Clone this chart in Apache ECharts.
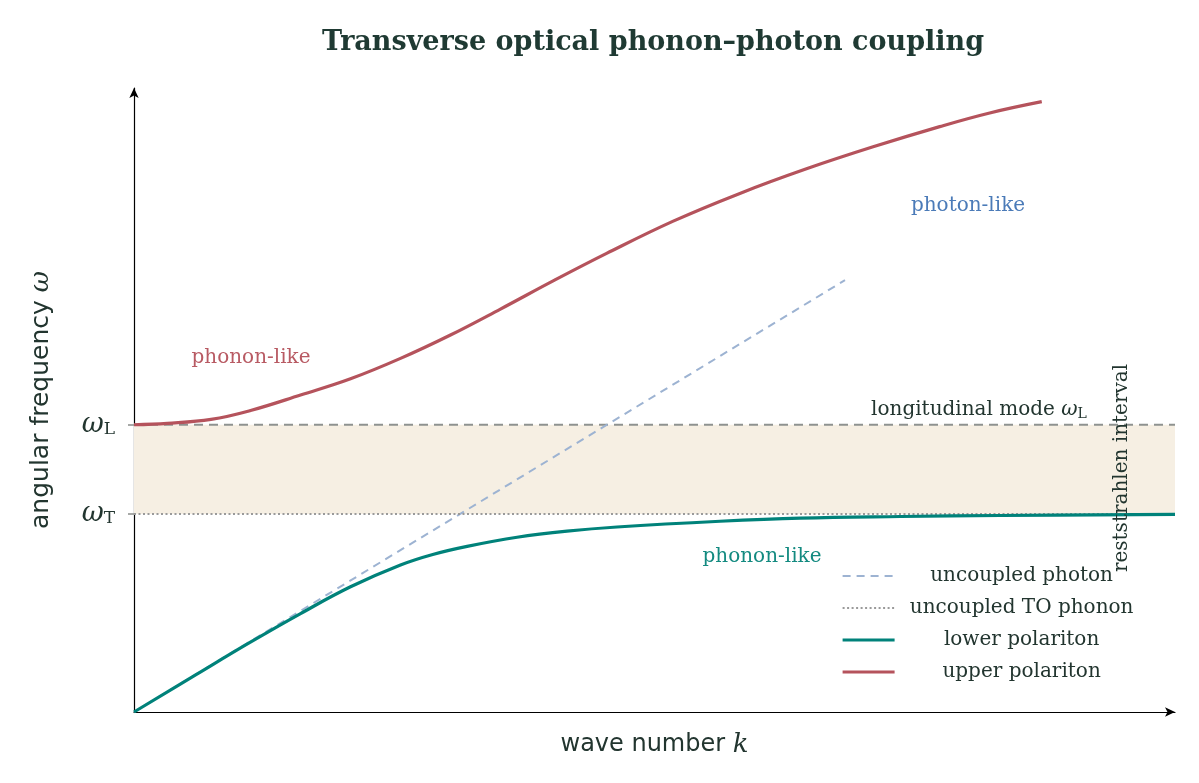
<!DOCTYPE html>
<html>
<head>
<meta charset="utf-8">
<title>Transverse optical phonon–photon coupling</title>
<script src="https://cdn.jsdelivr.net/npm/echarts@6/dist/echarts.min.js"></script>
<style>
    html, body { margin: 0; padding: 0; background: #fff; }
    #polariton_chart { width: 1199px; height: 783px; }
</style>
</head>
<body>
<div id="polariton_chart"></div>
<script>
// ------------------------------
// Data
// ------------------------------

var omegaT = 1.0;
var omegaL = 1.45;
var kMax = 10;
var wMax = 3.15;

var photonK = [0, 6.83];
var photonW = [0, 2.18];

var lowerK = [0, 0.60, 1.11, 1.60, 2.08, 2.56, 2.87, 3.20, 3.68, 4.16, 4.64, 5.63, 6.40, 7.36, 8.32, 10];
var lowerW = [0, 0.19, 0.35, 0.497, 0.632, 0.742, 0.795, 0.836, 0.882, 0.913, 0.934, 0.963, 0.979, 0.987, 0.992, 0.998];

var upperK = [0, 0.32, 0.74, 1.12, 1.60, 2.08, 2.56, 3.04, 3.52, 4.04, 4.54, 5.18, 5.82, 6.46, 7.10, 7.74, 8.22, 8.72];
var upperW = [1.45, 1.457, 1.477, 1.522, 1.600, 1.682, 1.785, 1.903, 2.034, 2.180, 2.315, 2.478, 2.618, 2.742, 2.853, 2.955, 3.024, 3.081];

var yTickValues = [omegaT, omegaL];
var yTickSubs = ['T', 'L'];

var legendNames = ['uncoupled photon', 'uncoupled TO phonon', 'lower polariton', 'upper polariton'];

function pairs(xs, ys) {
    return xs.map(function(x, i) { return [x, ys[i]]; });
}

var textColor = '#22352f';
var serif = '"DejaVu Serif", serif';
var sans = '"DejaVu Sans", sans-serif';

var chart = echarts.init(document.getElementById('polariton_chart'));

chart.setOption({
    animation: false,
    backgroundColor: '#fff',

    title: {
        text: 'Transverse optical phonon–photon coupling',
        left: 322,
        top: 29,
        padding: 0,
        textStyle: {
            fontFamily: serif,
            fontWeight: 'bold',
            fontSize: 27,
            color: '#1f3a33'
        }
    },

    grid: { left: 134, right: 24, top: 88, bottom: 71 },

    legend: {
        data: legendNames,
        orient: 'vertical',
        left: 841,
        top: 566,
        padding: 0,
        itemWidth: 52,
        itemHeight: 18,
        itemGap: 12,
        itemStyle: { opacity: 0 },
        lineStyle: { width: 'inherit' },
        formatter: '{c|{name}}',
        textStyle: {
            rich: {
                c: {
                    width: 244,
                    align: 'center',
                    fontFamily: serif,
                    fontSize: 20,
                    lineHeight: 18,
                    color: textColor
                }
            }
        }
    },

    xAxis: {
        type: 'value',
        min: 0,
        max: kMax,
        name: '{t|wave number }{k|k}',
        nameLocation: 'middle',
        nameGap: 20,
        nameTextStyle: {
            rich: {
                t: { fontFamily: sans, fontSize: 24, color: textColor },
                k: { fontFamily: serif, fontStyle: 'italic', fontSize: 26, color: textColor }
            }
        },
        axisLine: {
            show: true,
            symbol: ['none', 'arrow'],
            symbolSize: [7, 10],
            lineStyle: { color: '#000', width: 1.2 }
        },
        axisTick: { show: false },
        axisLabel: { show: false },
        splitLine: { show: false }
    },

    yAxis: {
        type: 'value',
        min: 0,
        max: wMax,
        name: '{t|angular frequency }{w|ω}',
        nameLocation: 'middle',
        nameRotate: 90,
        nameGap: 80,
        nameTextStyle: {
            rich: {
                t: { fontFamily: sans, fontSize: 25, color: textColor },
                w: { fontFamily: serif, fontStyle: 'italic', fontSize: 26, color: textColor }
            }
        },
        axisLine: {
            show: true,
            symbol: ['none', 'arrow'],
            symbolSize: [7, 10],
            lineStyle: { color: '#000', width: 1.2 }
        },
        axisTick: {
            show: true,
            customValues: yTickValues,
            length: 6,
            lineStyle: { color: '#8a8d8b', width: 1.5 }
        },
        axisLabel: {
            show: true,
            customValues: yTickValues,
            margin: 19,
            formatter: function(v) {
                var i = yTickValues.indexOf(v);
                return '{w|ω}{s|' + (i >= 0 ? yTickSubs[i] : '') + '}';
            },
            rich: {
                w: { fontFamily: serif, fontStyle: 'italic', fontSize: 27, color: textColor, lineHeight: 26 },
                s: { fontFamily: serif, fontSize: 17, color: textColor, verticalAlign: 'bottom', lineHeight: 12 }
            }
        },
        splitLine: { show: false }
    },

    series: [
        {
            name: 'reststrahlen band',
            type: 'line',
            data: [[0, omegaL], [kMax, omegaL]],
            symbol: 'none',
            silent: true,
            z: 1,
            lineStyle: { color: '#8e9290', width: 2, type: [9, 6] },
            markArea: {
                silent: true,
                itemStyle: { color: '#f6efe3' },
                data: [[{ xAxis: 0, yAxis: omegaT }, { xAxis: kMax, yAxis: omegaL }]]
            }
        },
        {
            name: 'uncoupled photon',
            type: 'line',
            data: pairs(photonK, photonW),
            symbol: 'none',
            z: 2,
            lineStyle: { color: '#9db3d2', width: 2, type: [8, 6] },
            itemStyle: { color: '#9db3d2' }
        },
        {
            name: 'uncoupled TO phonon',
            type: 'line',
            data: [[0, omegaT], [kMax, omegaT]],
            symbol: 'none',
            z: 2,
            lineStyle: { color: '#9a9a9a', width: 2, type: [2, 2.5] },
            itemStyle: { color: '#9a9a9a' }
        },
        {
            name: 'lower polariton',
            type: 'line',
            data: pairs(lowerK, lowerW),
            symbol: 'none',
            smooth: 0.4,
            z: 3,
            lineStyle: { color: '#00827a', width: 3.2 },
            itemStyle: { color: '#00827a' }
        },
        {
            name: 'upper polariton',
            type: 'line',
            data: pairs(upperK, upperW),
            symbol: 'none',
            smooth: 0.4,
            z: 3,
            lineStyle: { color: '#b5535c', width: 3.2 },
            itemStyle: { color: '#b5535c' }
        }
    ],

    graphic: [
        {
            type: 'text', x: 251, y: 358, z: 100, silent: true,
            style: { text: 'phonon-like', fill: '#b85a63', font: '20px ' + serif, align: 'center', verticalAlign: 'middle' }
        },
        {
            type: 'text', x: 968, y: 206, z: 100, silent: true,
            style: { text: 'photon-like', fill: '#4b7bb8', font: '20px ' + serif, align: 'center', verticalAlign: 'middle' }
        },
        {
            type: 'text', x: 762, y: 557, z: 100, silent: true,
            style: { text: 'phonon-like', fill: '#138a80', font: '20px ' + serif, align: 'center', verticalAlign: 'middle' }
        },
        {
            type: 'text', x: 979, y: 410, z: 100, silent: true,
            style: {
                text: '{a|longitudinal mode }{w|ω}{s|L}',
                align: 'center', verticalAlign: 'middle',
                rich: {
                    a: { fontFamily: serif, fontSize: 20, fill: textColor, lineHeight: 22 },
                    w: { fontFamily: serif, fontStyle: 'italic', fontSize: 20, fill: textColor, lineHeight: 22 },
                    s: { fontFamily: serif, fontSize: 14, fill: textColor, verticalAlign: 'bottom', lineHeight: 9 }
                }
            }
        },
        {
            type: 'text', x: 1122, y: 468, rotation: Math.PI / 2, z: 100, silent: true,
            style: { text: 'reststrahlen interval', fill: textColor, font: '20px ' + serif, align: 'center', verticalAlign: 'middle' }
        }
    ]
});
</script>
</body>
</html>
